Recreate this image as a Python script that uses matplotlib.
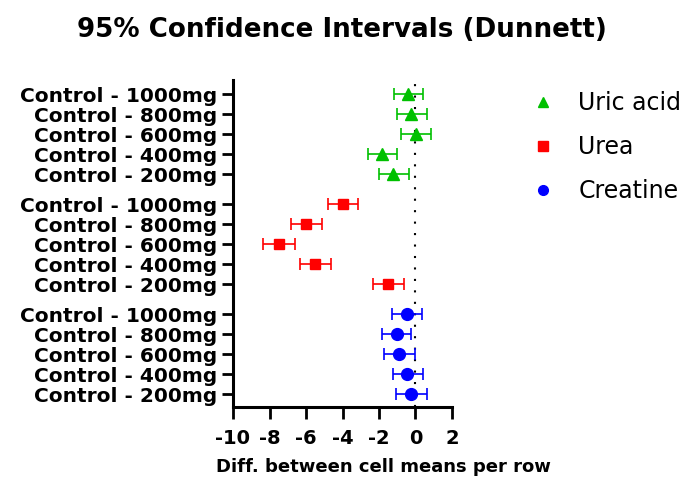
import matplotlib
matplotlib.use("Agg")
import matplotlib.pyplot as plt
from matplotlib.lines import Line2D
import numpy as np

plt.rcParams['font.family'] = ['DejaVu Sans']

groups = ["Uric acid", "Urea", "Creatine"]
colors = ["#00C000", "#FF0000", "#0000FF"]
markers = ["^", "s", "o"]
comparisons = ["Control - 1000mg", "Control - 800mg", "Control - 600mg",
               "Control - 400mg", "Control - 200mg"]

uric_mean = [-0.40, -0.22, 0.02, -1.81, -1.21]
uric_lo = [-1.19, -1.00, -0.82, -2.62, -2.00]
uric_hi = [0.42, 0.64, 0.84, -1.00, -0.37]

urea_mean = [-3.97, -5.99, -7.49, -5.48, -1.48]
urea_lo = [-4.82, -6.83, -8.34, -6.32, -2.32]
urea_hi = [-3.13, -5.11, -6.61, -4.63, -0.64]

creat_mean = [-0.49, -1.04, -0.88, -0.46, -0.22]
creat_lo = [-1.30, -1.85, -1.74, -1.26, -1.08]
creat_hi = [0.35, -0.24, -0.02, 0.42, 0.64]

xticks = [-10, -8, -6, -4, -2, 0, 2]

series = [(uric_mean, uric_lo, uric_hi),
          (urea_mean, urea_lo, urea_hi),
          (creat_mean, creat_lo, creat_hi)]

fig = plt.figure(figsize=(6.89, 4.91), dpi=100)
ax = fig.add_axes([233/689, 1-407/491, (452-233)/689, (407-80)/491])

group_gap = 1.5
yticks = []
ylabels = []
for gi, (m, lo, hi) in enumerate(series):
    m = np.array(m); lo = np.array(lo); hi = np.array(hi)
    y = np.arange(len(comparisons)) + gi * (len(comparisons) - 1 + group_gap)
    ax.errorbar(m, y, xerr=[m - lo, hi - m], fmt=markers[gi], color=colors[gi],
                ecolor=colors[gi], elinewidth=1.2, capsize=4, capthick=1.2,
                markersize=8.5 if markers[gi] != "s" else 7.5, zorder=3)
    yticks.extend(y)
    ylabels.extend(comparisons)

ax.axvline(0, color="black", linestyle=(0, (1, 4.5)), linewidth=1.5, zorder=1)

ax.set_yticks(yticks)
ax.set_yticklabels(ylabels, fontsize=14.5, fontweight="bold")
ax.set_ylim(yticks[-1] + 0.635, -0.715)
ax.set_xlim(-10, 2)
ax.set_xticks(xticks)
ax.set_xticklabels([str(t) for t in xticks], fontsize=14, fontweight="bold")

for s in ["top", "right"]:
    ax.spines[s].set_visible(False)
for s in ["left", "bottom"]:
    ax.spines[s].set_linewidth(2.2)
ax.tick_params(axis="y", width=2.0, length=8, pad=3)
ax.tick_params(axis="x", width=2.0, length=8.5, pad=7)

fig.text(342/689, 1-30/491, "95% Confidence Intervals (Dunnett)", ha="center", va="center",
         fontsize=18.8, fontweight="bold")
fig.text(383/689, 1-467/491, "Diff. between cell means per row", ha="center", va="center",
         fontsize=13, fontweight="bold")

handles = [Line2D([], [], marker=markers[i], color=colors[i], linestyle="none",
                  markersize=7 if markers[i] != "s" else 6.5) for i in range(3)]
fig.legend(handles, groups, loc="upper left", bbox_to_anchor=(531/689, 1-91/491),
           frameon=False, fontsize=17, labelspacing=0.85, handlelength=1.0,
           handletextpad=1.0, borderpad=0, borderaxespad=0)

fig.savefig("out.png", dpi=100)
